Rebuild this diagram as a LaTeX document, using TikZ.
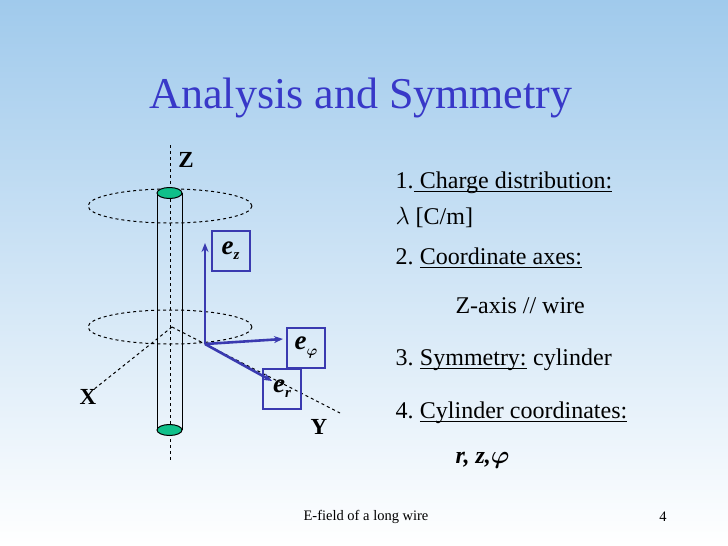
\documentclass[tikz,border=0pt]{standalone}
\usepackage{amsmath,bm}
\usepackage{fontspec}
\setmainfont{Liberation Serif}
\usetikzlibrary{arrows.meta}
\definecolor{ttl}{HTML}{3838C8}
\definecolor{vec}{HTML}{3A3AB0}
\definecolor{cap}{HTML}{10C08A}
\newcommand{\ul}[1]{\tikz[baseline=(u.base)]{\node[inner sep=0pt,outer sep=0pt](u){#1};\draw[line width=0.9pt] ([yshift=-2.5pt]u.base west)--([yshift=-2.5pt]u.base east);}}
\begin{document}
\begin{tikzpicture}[x=1pt,y=-1pt,
  ax/.style={dashed,line width=1pt},
  ring/.style={dashed,line width=1pt},
  vecarrow/.style={vec,line width=2.6pt,-{Stealth[length=9pt,width=7pt]}},
  vbox/.style={draw=vec,line width=2pt,minimum width=38pt,minimum height=40pt,inner sep=0pt,font=\bfseries\itshape\fontsize{27}{27}\selectfont},
  axlabel/.style={font=\bfseries\fontsize{23}{23}\selectfont},
  item/.style={anchor=west,font=\fontsize{24}{26}\selectfont}]
\shade[top color={rgb,255:red,160;green,202;blue,236},bottom color=white] (0,0) rectangle (728,546);
\useasboundingbox (0,0) rectangle (728,546);
\node[anchor=west,ttl,font=\fontsize{44}{44}\selectfont] (title) at (146,98) {Analysis and Symmetry};
% axes
\coordinate (ztop) at (170,145);
\coordinate (zbot) at (170,460);
\coordinate (o) at (172,327);
\coordinate (xend) at (93,390);
\coordinate (yend) at (340,413);
\draw[ax] (ztop) -- (zbot);
\draw[ax] (o) -- (xend);
\draw[ax] (o) -- (yend);
\node[axlabel] (zl) at (186,160) {Z};
\node[axlabel] (xl) at (88,397) {X};
\node[axlabel] (yl) at (319,427) {Y};
% rings
\draw[ring] (170,206) ellipse (82 and 17);
\draw[ring] (170,327) ellipse (82 and 17);
% cylinder
\draw[line width=1pt] (157,193) -- (157,430);
\draw[line width=1pt] (182,193) -- (182,430);
\filldraw[fill=cap,draw=black,line width=1pt] (169.5,193) ellipse (12.5 and 5.5);
\filldraw[fill=cap,draw=black,line width=1pt] (169.5,430) ellipse (12.5 and 5.5);
% vectors
\coordinate (v0) at (205,344);
\coordinate (vz) at (205,243);
\coordinate (vp) at (283,339);
\coordinate (vr) at (272,381);
\draw[vecarrow] (v0) -- (vz);
\draw[vecarrow] (v0) -- (vp);
\draw[vecarrow] (v0) -- (vr);
\node[vbox] (ez) at (230.5,250.5) {e\raisebox{-5pt}{\fontsize{15}{15}\selectfont z}};
\node[vbox] (ep) at (306,347.5) {e\raisebox{-6pt}{\fontsize{15}{15}\selectfont$\bm{\varphi}$}};
\node[vbox] (er) at (282,389) {e\raisebox{-5pt}{\fontsize{15}{15}\selectfont r}};
% text
\node[item] (t1) at (392,183) {1.\ul{\ Charge distribution:}};
\node[item] (t1b) at (392,217) {$\lambda$ [C/m]};
\node[item] (t2) at (392,258) {2.~\ul{Coordinate axes:}};
\node[item] (t2b) at (452,306) {Z-axis // wire};
\node[item] (t3) at (392,360) {3.~\ul{Symmetry:} cylinder};
\node[item] (t4) at (392,413) {4.~\ul{Cylinder coordinates:}};
\node[item] (t4b) at (452,460) {\bfseries\itshape r, z,$\bm{\varphi}$};
\node[font=\fontsize{14.5}{14.5}\selectfont] (foot) at (366,517) {E-field of a long wire};
\node[font=\fontsize{14.5}{14.5}\selectfont] (num) at (663,517) {4};
\end{tikzpicture}
\end{document}
